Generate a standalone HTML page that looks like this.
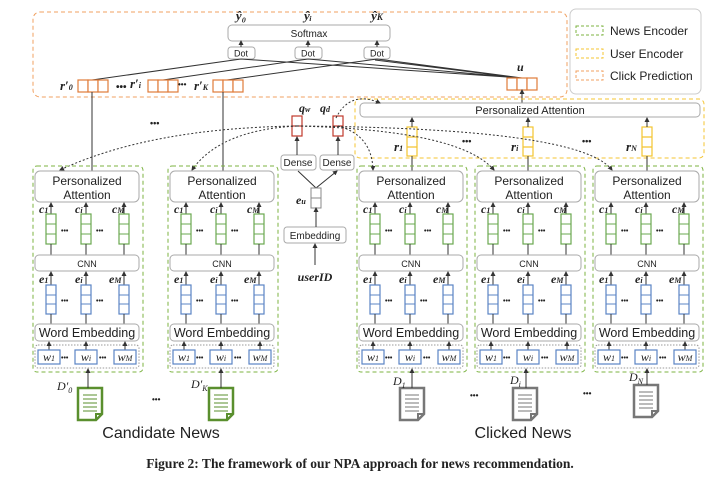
<!DOCTYPE html>
<html><head><meta charset="utf-8"><style>
body{margin:0;background:#fff}
svg{display:block}
.t{font-family:"Liberation Sans",sans-serif;fill:#222}
.m{font-family:"Liberation Serif",serif;font-style:italic;font-weight:bold;fill:#222}
.w{font-family:"Liberation Serif",serif;font-style:italic;fill:#222}
.bx{fill:#fff;stroke:#aaa;stroke-width:1}
.g{fill:#fff;stroke:#6aa84f;stroke-width:1.2}
.b{fill:#fff;stroke:#5b84c4;stroke-width:1.2}
.ln{stroke:#333;stroke-width:1;fill:none}
</style></head><body>
<svg width="720" height="478" viewBox="0 0 720 478" xmlns="http://www.w3.org/2000/svg">
<defs>
<marker id="a" markerWidth="5" markerHeight="5" refX="4" refY="2.5" orient="auto"><path d="M0,0L5,2.5L0,5z" fill="#333"/></marker>
<g id="enc">
<rect x="0" y="166" width="110" height="206" rx="4" fill="none" stroke="#7cb342" stroke-dasharray="4,3"/>
<rect x="2" y="171" width="104" height="31" rx="5" class="bx"/>
<line x1="18" y1="214" x2="18" y2="203" class="ln" marker-end="url(#a)"/><line x1="53" y1="214" x2="53" y2="203" class="ln" marker-end="url(#a)"/><line x1="91" y1="214" x2="91" y2="203" class="ln" marker-end="url(#a)"/>
<rect x="13" y="214" width="10" height="30" class="g"/><line x1="13" y1="224" x2="23" y2="224" stroke="#6aa84f"/><line x1="13" y1="234" x2="23" y2="234" stroke="#6aa84f"/>
<rect x="48" y="214" width="10" height="30" class="g"/><line x1="48" y1="224" x2="58" y2="224" stroke="#6aa84f"/><line x1="48" y1="234" x2="58" y2="234" stroke="#6aa84f"/>
<rect x="86" y="214" width="10" height="30" class="g"/><line x1="86" y1="224" x2="96" y2="224" stroke="#6aa84f"/><line x1="86" y1="234" x2="96" y2="234" stroke="#6aa84f"/>
<line x1="18" y1="255" x2="18" y2="244" class="ln"/><line x1="53" y1="255" x2="53" y2="244" class="ln"/><line x1="91" y1="255" x2="91" y2="244" class="ln"/>
<rect x="2" y="255" width="104" height="16" rx="4" class="bx"/>
<line x1="18" y1="285" x2="18" y2="272" class="ln" marker-end="url(#a)"/><line x1="53" y1="285" x2="53" y2="272" class="ln" marker-end="url(#a)"/><line x1="91" y1="285" x2="91" y2="272" class="ln" marker-end="url(#a)"/>
<rect x="13" y="285" width="10" height="29" class="b"/><line x1="13" y1="295" x2="23" y2="295" stroke="#5b84c4"/><line x1="13" y1="304" x2="23" y2="304" stroke="#5b84c4"/>
<rect x="48" y="285" width="10" height="29" class="b"/><line x1="48" y1="295" x2="58" y2="295" stroke="#5b84c4"/><line x1="48" y1="304" x2="58" y2="304" stroke="#5b84c4"/>
<rect x="86" y="285" width="10" height="29" class="b"/><line x1="86" y1="295" x2="96" y2="295" stroke="#5b84c4"/><line x1="86" y1="304" x2="96" y2="304" stroke="#5b84c4"/>
<line x1="18" y1="324" x2="18" y2="314" class="ln"/><line x1="53" y1="324" x2="53" y2="314" class="ln"/><line x1="91" y1="324" x2="91" y2="314" class="ln"/>
<rect x="2" y="324" width="104" height="17" rx="4" class="bx"/>
<rect x="2" y="345" width="104" height="23" rx="3" fill="none" stroke="#999" stroke-dasharray="1.5,1.5"/>
<line x1="16" y1="350" x2="16" y2="342" class="ln" marker-end="url(#a)"/><line x1="53" y1="350" x2="53" y2="342" class="ln" marker-end="url(#a)"/><line x1="92" y1="350" x2="92" y2="342" class="ln" marker-end="url(#a)"/>
<rect x="5" y="350" width="22" height="14" class="b"/><rect x="42" y="350" width="22" height="14" class="b"/><rect x="81" y="350" width="22" height="14" class="b"/>
</g>
<g id="doc"><path d="M0,0H24V26L18,32H0Z" fill="#fff" stroke-width="2.5"/><path d="M18,32V26H24" fill="none" stroke-width="2"/><path d="M5,7H19M5,11H19M5,15H19M5,19H19M5,23H19" stroke-width="1"/></g>
</defs>

<rect x="33" y="12" width="534" height="85" rx="7" fill="none" stroke="#f0a060" stroke-dasharray="4,3"/>
<rect x="228" y="25" width="162" height="16" rx="4" class="bx"/>
<text x="309" y="37" class="t" font-size="10" text-anchor="middle">Softmax</text>
<text x="241" y="20" class="m" font-size="13" text-anchor="middle">ŷ₀</text>
<text x="308" y="20" class="m" font-size="13" text-anchor="middle">ŷᵢ</text>
<text x="377" y="20" class="m" font-size="13" text-anchor="middle">ŷ<tspan font-size="9">K</tspan></text>
<rect x="228" y="47" width="27" height="12" rx="3" class="bx"/><text x="241" y="56.5" class="t" font-size="9" text-anchor="middle">Dot</text>
<rect x="295" y="47" width="27" height="12" rx="3" class="bx"/><text x="308" y="56.5" class="t" font-size="9" text-anchor="middle">Dot</text>
<rect x="364" y="47" width="26" height="12" rx="3" class="bx"/><text x="377" y="56.5" class="t" font-size="9" text-anchor="middle">Dot</text>
<line x1="241" y1="47" x2="241" y2="41" class="ln" marker-end="url(#a)"/><line x1="308" y1="47" x2="308" y2="41" class="ln" marker-end="url(#a)"/><line x1="377" y1="47" x2="377" y2="41" class="ln" marker-end="url(#a)"/>
<path d="M92,80L241,59M163,80L308,59M227,80L377,59M522,78L241,59M522,78L308,59M522,78L377,59M520,78L375,60" class="ln"/>
<g fill="#fff" stroke="#e07b39" stroke-width="1.2">
<rect x="78" y="80" width="10" height="12"/><rect x="88" y="80" width="10" height="12"/><rect x="98" y="80" width="10" height="12"/>
<rect x="148" y="80" width="10" height="12"/><rect x="158" y="80" width="10" height="12"/><rect x="168" y="80" width="10" height="12"/>
<rect x="213" y="80" width="10" height="12"/><rect x="223" y="80" width="10" height="12"/><rect x="233" y="80" width="10" height="12"/>
<rect x="507" y="78" width="10" height="12"/><rect x="517" y="78" width="10" height="12"/><rect x="527" y="78" width="10" height="12"/>
</g>
<text x="60" y="90" class="m" font-size="13">r′<tspan font-size="8">0</tspan></text>
<text x="130" y="88" class="m" font-size="13">r′<tspan font-size="8">i</tspan></text>
<text x="194" y="90" class="m" font-size="13">r′<tspan font-size="8">K</tspan></text>
<text x="116" y="90" class="t" font-size="10" font-weight="bold">•••</text>
<text x="178" y="87" class="t" font-size="8" font-weight="bold">•••</text>
<text x="517" y="71" class="m" font-size="12">u</text>
<line x1="92" y1="172" x2="92" y2="92" class="ln"/><line x1="223" y1="172" x2="223" y2="92" class="ln"/>
<line x1="522" y1="103" x2="522" y2="90" class="ln" marker-end="url(#a)"/>
<text x="150" y="126" class="t" font-size="9" font-weight="bold">•••</text>

<rect x="570" y="9" width="131" height="85" rx="6" fill="#fff" stroke="#ccc"/>
<rect x="576" y="26" width="27" height="9" fill="none" stroke="#7cb342" stroke-dasharray="3,2"/><text x="610" y="35" class="t" font-size="12">News Encoder</text>
<rect x="576" y="49" width="27" height="9" fill="none" stroke="#f4c430" stroke-dasharray="3,2"/><text x="610" y="58" class="t" font-size="12">User Encoder</text>
<rect x="576" y="71" width="27" height="9" fill="none" stroke="#f0a060" stroke-dasharray="3,2"/><text x="610" y="80" class="t" font-size="12">Click Prediction</text>

<rect x="355" y="99" width="349" height="59" rx="5" fill="none" stroke="#f4c430" stroke-dasharray="4,3"/>
<rect x="360" y="103" width="340" height="14" rx="4" class="bx"/>
<text x="530" y="114" class="t" font-size="11" text-anchor="middle">Personalized Attention</text>
<g fill="#fff" stroke="#f4c430" stroke-width="1.2">
<rect x="407" y="127" width="10" height="29"/><rect x="523" y="127" width="10" height="29"/><rect x="642" y="127" width="10" height="29"/>
<path d="M407,137H417M407,147H417M523,137H533M523,147H533M642,137H652M642,147H652"/>
</g>
<line x1="412" y1="127" x2="412" y2="118" class="ln" marker-end="url(#a)"/><line x1="528" y1="127" x2="528" y2="118" class="ln" marker-end="url(#a)"/><line x1="647" y1="127" x2="647" y2="118" class="ln" marker-end="url(#a)"/>
<line x1="412" y1="172" x2="412" y2="156" class="ln"/><line x1="528" y1="172" x2="528" y2="156" class="ln"/><line x1="647" y1="172" x2="647" y2="156" class="ln"/>
<text x="394" y="151" class="m" font-size="13">r<tspan font-size="8">1</tspan></text>
<text x="511" y="151" class="m" font-size="13">r<tspan font-size="8">i</tspan></text>
<text x="626" y="151" class="m" font-size="13">r<tspan font-size="8">N</tspan></text>
<text x="462" y="144" class="t" font-size="9" font-weight="bold">•••</text>
<text x="582" y="144" class="t" font-size="9" font-weight="bold">•••</text>

<g fill="#fff" stroke="#c0392b" stroke-width="1.2">
<rect x="292" y="116" width="10" height="20"/><line x1="292" y1="126" x2="302" y2="126"/>
<rect x="333" y="116" width="10" height="20"/><line x1="333" y1="126" x2="343" y2="126"/>
</g>
<text x="299" y="112" class="m" font-size="12">q<tspan font-size="8">w</tspan></text>
<text x="320" y="112" class="m" font-size="12">q<tspan font-size="8">d</tspan></text>
<rect x="281" y="155" width="35" height="15" rx="3" class="bx"/><text x="298" y="166" class="t" font-size="10" text-anchor="middle">Dense</text>
<rect x="320" y="155" width="34" height="15" rx="3" class="bx"/><text x="337" y="166" class="t" font-size="10" text-anchor="middle">Dense</text>
<line x1="297" y1="155" x2="297" y2="137" class="ln" marker-end="url(#a)"/><line x1="338" y1="155" x2="338" y2="137" class="ln" marker-end="url(#a)"/>
<path d="M316,188L298,171M316,188L337,171" class="ln" marker-end="url(#a)"/>
<rect x="311" y="188" width="10" height="20" fill="#fff" stroke="#888"/><line x1="311" y1="198" x2="321" y2="198" stroke="#888"/>
<text x="296" y="204" class="m" font-size="12">e<tspan font-size="8">u</tspan></text>
<rect x="284" y="227" width="62" height="16" rx="3" class="bx"/><text x="315" y="239" class="t" font-size="10" text-anchor="middle">Embedding</text>
<line x1="316" y1="227" x2="316" y2="208" class="ln" marker-end="url(#a)"/>
<line x1="315" y1="265" x2="315" y2="244" class="ln" marker-end="url(#a)"/>
<text x="315" y="281" class="m" font-size="12" text-anchor="middle">userID</text>
<g fill="none" stroke="#333" stroke-width="1" stroke-dasharray="2,2">
<path d="M297,126Q150,128 60,170" marker-end="url(#a)"/>
<path d="M297,126Q220,130 192,170" marker-end="url(#a)"/>
<path d="M338,126Q372,135 373,170" marker-end="url(#a)"/>
<path d="M297,126Q460,130 494,170" marker-end="url(#a)"/>
<path d="M297,126Q580,128 612,170" marker-end="url(#a)"/>
<path d="M336,118Q350,90 380,103" marker-end="url(#a)"/>
</g>

<use href="#enc" x="33"/><use href="#enc" x="168"/><use href="#enc" x="357"/><use href="#enc" x="475"/><use href="#enc" x="593"/>
<g class="t" font-size="12" text-anchor="middle">
<text x="87" y="185">Personalized</text><text x="87" y="199">Attention</text>
<text x="222" y="185">Personalized</text><text x="222" y="199">Attention</text>
<text x="411" y="185">Personalized</text><text x="411" y="199">Attention</text>
<text x="529" y="185">Personalized</text><text x="529" y="199">Attention</text>
<text x="647" y="185">Personalized</text><text x="647" y="199">Attention</text>
</g>
<g class="t" font-size="12.5" text-anchor="middle">
<text x="87" y="337">Word Embedding</text><text x="222" y="337">Word Embedding</text><text x="411" y="337">Word Embedding</text><text x="529" y="337">Word Embedding</text><text x="647" y="337">Word Embedding</text>
</g>
<g class="t" font-size="9" text-anchor="middle">
<text x="87" y="267">CNN</text><text x="222" y="267">CNN</text><text x="411" y="267">CNN</text><text x="529" y="267">CNN</text><text x="647" y="267">CNN</text>
</g>
<g class="m" font-size="12">
<text x="39" y="213">c<tspan font-size="8">1</tspan></text><text x="75" y="213">c<tspan font-size="8">i</tspan></text><text x="112" y="213">c<tspan font-size="8">M</tspan></text>
<text x="174" y="213">c<tspan font-size="8">1</tspan></text><text x="210" y="213">c<tspan font-size="8">i</tspan></text><text x="247" y="213">c<tspan font-size="8">M</tspan></text>
<text x="363" y="213">c<tspan font-size="8">1</tspan></text><text x="399" y="213">c<tspan font-size="8">i</tspan></text><text x="436" y="213">c<tspan font-size="8">M</tspan></text>
<text x="481" y="213">c<tspan font-size="8">1</tspan></text><text x="517" y="213">c<tspan font-size="8">i</tspan></text><text x="554" y="213">c<tspan font-size="8">M</tspan></text>
<text x="599" y="213">c<tspan font-size="8">1</tspan></text><text x="635" y="213">c<tspan font-size="8">i</tspan></text><text x="672" y="213">c<tspan font-size="8">M</tspan></text>
<text x="39" y="283">e<tspan font-size="8">1</tspan></text><text x="75" y="283">e<tspan font-size="8">i</tspan></text><text x="109" y="283">e<tspan font-size="8">M</tspan></text>
<text x="174" y="283">e<tspan font-size="8">1</tspan></text><text x="210" y="283">e<tspan font-size="8">i</tspan></text><text x="244" y="283">e<tspan font-size="8">M</tspan></text>
<text x="363" y="283">e<tspan font-size="8">1</tspan></text><text x="399" y="283">e<tspan font-size="8">i</tspan></text><text x="433" y="283">e<tspan font-size="8">M</tspan></text>
<text x="481" y="283">e<tspan font-size="8">1</tspan></text><text x="517" y="283">e<tspan font-size="8">i</tspan></text><text x="551" y="283">e<tspan font-size="8">M</tspan></text>
<text x="599" y="283">e<tspan font-size="8">1</tspan></text><text x="635" y="283">e<tspan font-size="8">i</tspan></text><text x="669" y="283">e<tspan font-size="8">M</tspan></text>
</g>
<g class="w" font-size="12" text-anchor="middle">
<text x="49" y="361">w<tspan font-size="8">1</tspan></text><text x="86" y="361">w<tspan font-size="8">i</tspan></text><text x="125" y="361">w<tspan font-size="8">M</tspan></text>
<text x="184" y="361">w<tspan font-size="8">1</tspan></text><text x="221" y="361">w<tspan font-size="8">i</tspan></text><text x="260" y="361">w<tspan font-size="8">M</tspan></text>
<text x="373" y="361">w<tspan font-size="8">1</tspan></text><text x="410" y="361">w<tspan font-size="8">i</tspan></text><text x="449" y="361">w<tspan font-size="8">M</tspan></text>
<text x="491" y="361">w<tspan font-size="8">1</tspan></text><text x="528" y="361">w<tspan font-size="8">i</tspan></text><text x="567" y="361">w<tspan font-size="8">M</tspan></text>
<text x="609" y="361">w<tspan font-size="8">1</tspan></text><text x="646" y="361">w<tspan font-size="8">i</tspan></text><text x="685" y="361">w<tspan font-size="8">M</tspan></text>
</g>
<g class="t" font-size="7" font-weight="bold">
<text x="61" y="233">•••</text><text x="96" y="233">•••</text><text x="61" y="303">•••</text><text x="96" y="303">•••</text><text x="61" y="360">•••</text><text x="99" y="360">•••</text>
<text x="196" y="233">•••</text><text x="231" y="233">•••</text><text x="196" y="303">•••</text><text x="231" y="303">•••</text><text x="196" y="360">•••</text><text x="234" y="360">•••</text>
<text x="385" y="233">•••</text><text x="424" y="233">•••</text><text x="385" y="303">•••</text><text x="420" y="303">•••</text><text x="385" y="360">•••</text><text x="423" y="360">•••</text>
<text x="503" y="233">•••</text><text x="538" y="233">•••</text><text x="503" y="303">•••</text><text x="538" y="303">•••</text><text x="503" y="360">•••</text><text x="541" y="360">•••</text>
<text x="621" y="233">•••</text><text x="656" y="233">•••</text><text x="621" y="303">•••</text><text x="656" y="303">•••</text><text x="621" y="360">•••</text><text x="659" y="360">•••</text>
</g>

<g stroke="#5a8f2e" fill="#fff"><use href="#doc" x="78" y="388"/><use href="#doc" x="209" y="388"/></g>
<g stroke="#777" fill="#fff"><use href="#doc" x="400" y="388"/><use href="#doc" x="513" y="388"/><use href="#doc" x="634" y="385"/></g>
<line x1="88" y1="388" x2="88" y2="369" class="ln" marker-end="url(#a)"/><line x1="221" y1="388" x2="221" y2="369" class="ln" marker-end="url(#a)"/>
<line x1="412" y1="388" x2="412" y2="369" class="ln" marker-end="url(#a)"/><line x1="526" y1="388" x2="526" y2="369" class="ln" marker-end="url(#a)"/><line x1="647" y1="385" x2="647" y2="369" class="ln" marker-end="url(#a)"/>
<g class="w" font-size="12">
<text x="57" y="390">D′<tspan font-size="8" dy="3">0</tspan></text>
<text x="191" y="388">D′<tspan font-size="8" dy="3">K</tspan></text>
<text x="393" y="385">D<tspan font-size="8" dy="3">1</tspan></text>
<text x="510" y="384">D<tspan font-size="8" dy="3">i</tspan></text>
<text x="629" y="381">D<tspan font-size="8" dy="3">N</tspan></text>
</g>
<g class="t" font-size="8" font-weight="bold"><text x="152" y="402">•••</text><text x="470" y="398">•••</text><text x="583" y="396">•••</text></g>
<text x="161" y="438" class="t" font-size="16" text-anchor="middle">Candidate News</text>
<text x="523" y="438" class="t" font-size="16" text-anchor="middle">Clicked News</text>
<text x="360" y="468" font-family="Liberation Serif,serif" font-weight="bold" font-size="13.5" text-anchor="middle" fill="#222">Figure 2: The framework of our NPA approach for news recommendation.</text>
</svg>
</body></html>
